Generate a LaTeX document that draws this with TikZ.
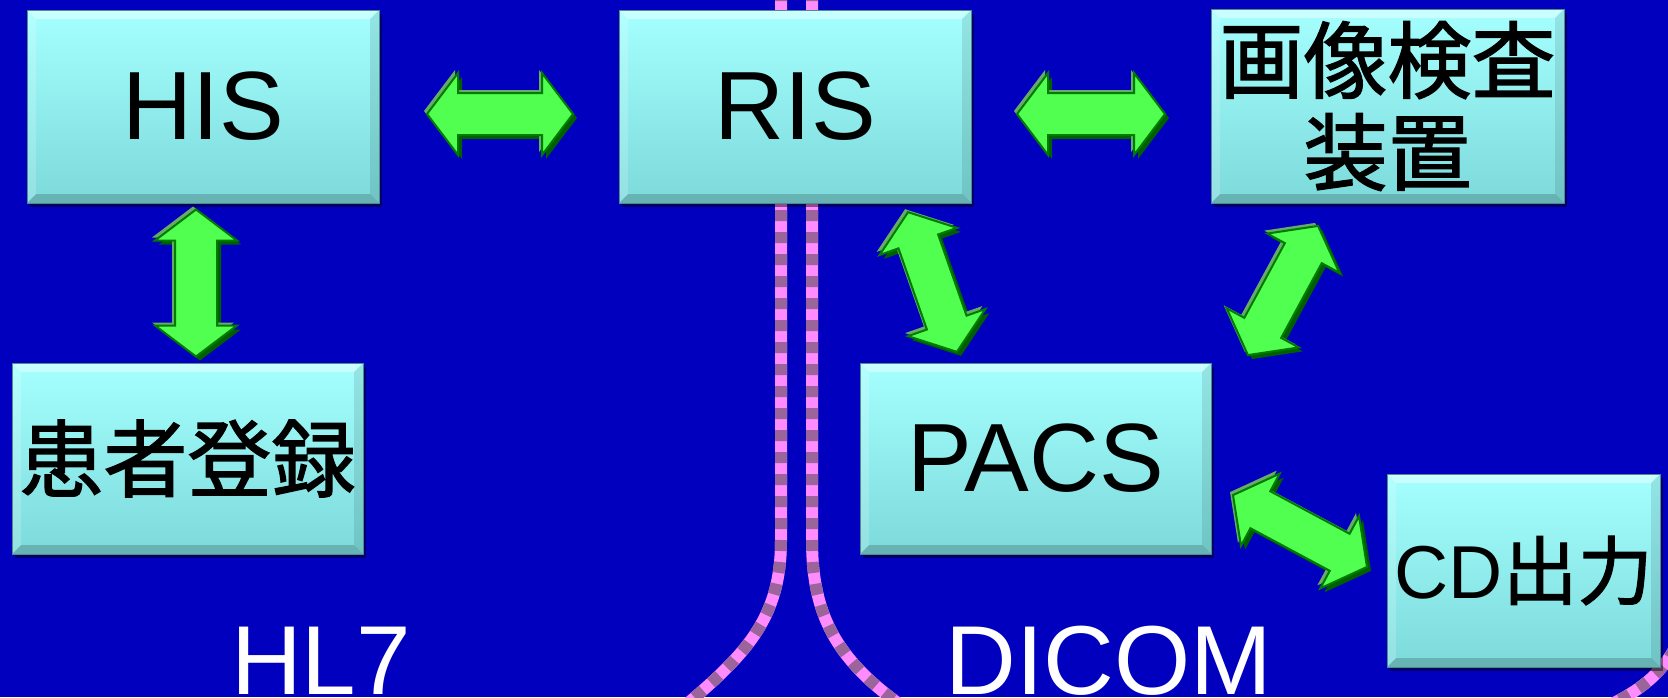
\documentclass[tikz,border=0pt]{standalone}
\usepackage{fontspec}
\setmainfont{Liberation Sans}
\newfontfamily\jp{Noto Sans CJK JP}[FakeBold=1.6]
\usetikzlibrary{shadows,calc}
\definecolor{bg}{RGB}{0,0,190}
\definecolor{boxtop}{RGB}{165,255,255}
\definecolor{boxbot}{RGB}{125,218,218}
\definecolor{boxedge}{RGB}{80,140,140}
\definecolor{arrfill}{RGB}{80,255,80}
\definecolor{arredge}{RGB}{0,125,0}
\definecolor{arrshadow}{RGB}{0,95,0}
\definecolor{arrlight}{RGB}{105,170,105}
\definecolor{pinkc}{RGB}{255,140,255}
\definecolor{mauve}{RGB}{155,100,155}
\def\arrshape{(-\arrL,0) -- (-\arrL+31,41) -- (-\arrL+31,21) -- (\arrL-31,21) -- (\arrL-31,41) -- (\arrL,0) -- (\arrL-31,-41) -- (\arrL-31,-21) -- (-\arrL+31,-21) -- (-\arrL+31,-41) -- cycle}
\newcommand\DblArr[3]{%
  \def\arrL{#3}%
  \begin{scope}[shift={(#1)}]
    \fill[arrshadow, shift={(4,4)}, rotate=#2] \arrshape;
    \fill[arrlight, shift={(-3,-3)}, rotate=#2] \arrshape;
    \draw[arrmain, rotate=#2] \arrshape;
  \end{scope}}
\tikzset{
  arrmain/.style={fill=arrfill, draw=arredge, line width=2pt, line join=miter},
  dotline/.style={line width=12pt, draw=pinkc, postaction={draw=mauve, line width=12pt, dash pattern=on 11pt off 11pt}},
  box/.style={rectangle, inner sep=0pt, top color=boxtop, bottom color=boxbot,
    draw=boxedge, line width=1pt,
    drop shadow={shadow xshift=3pt, shadow yshift=-4pt, opacity=0.45, fill=black},
    path picture={
      \path (path picture bounding box.north west) coordinate (bNW)
            (path picture bounding box.north east) coordinate (bNE)
            (path picture bounding box.south west) coordinate (bSW)
            (path picture bounding box.south east) coordinate (bSE);
      \fill[white,opacity=.40] (bNW) -- (bNE) -- ([shift={(-9pt,-9pt)}]bNE) -- ([shift={(9pt,-9pt)}]bNW) -- cycle;
      \fill[black,opacity=.18] (bSW) -- (bSE) -- ([shift={(-9pt,9pt)}]bSE) -- ([shift={(9pt,9pt)}]bSW) -- cycle;
      \fill[white,opacity=.18] (bNW) -- ([shift={(9pt,-9pt)}]bNW) -- ([shift={(9pt,9pt)}]bSW) -- (bSW) -- cycle;
      \fill[black,opacity=.10] (bNE) -- ([shift={(-9pt,-9pt)}]bNE) -- ([shift={(-9pt,9pt)}]bSE) -- (bSE) -- cycle;
    },
    text=black, font=\fontsize{97}{110}\selectfont},
  jpbox/.style={box, font=\jp\fontsize{84}{92}\selectfont, align=center},
  lbl/.style={text=white, font=\fontsize{98}{110}\selectfont, anchor=base, inner sep=0pt}
}
\begin{document}
\begin{tikzpicture}[x=1pt,y=-1pt]
\useasboundingbox (0,0) rectangle (1668,697);
\clip (0,0) rectangle (1668,697);
\fill[bg] (0,0) rectangle (1668,697);
% network lines
\draw[dotline] (781,-10) -- (781,540) .. controls (781,620) and (745,655) .. (680,710);
\draw[dotline] (812,-10) -- (812,540) .. controls (812,620) and (840,665) .. (915,715);
\draw[dotline] (1675,648) .. controls (1660,675) and (1640,690) .. (1610,705);
% boxes
\node[box, minimum width=352pt, minimum height=193pt] (his) at (203,106.5) {HIS};
\node[box, minimum width=352pt, minimum height=193pt] (ris) at (795,106.5) {RIS};
\node[jpbox, minimum width=353pt, minimum height=194pt] (img) at (1387.5,106) {画像検査\\装置};
\node[jpbox, minimum width=351pt, minimum height=191pt] (kanja) at (187.5,458.5) {患者登録};
\node[box, minimum width=351pt, minimum height=191pt] (pacs) at (1035.5,458.5) {PACS};
\node[box, minimum width=273pt, minimum height=193pt, font=\fontsize{75}{80}\selectfont] (cd) at (1523.5,570.5) {CD{\jp 出力}};
% labels
\node[lbl] (hl7) at (321,694) {HL7};
\node[lbl] (dicom) at (1109,694) {DICOM};
% arrows
\DblArr{500,114}{0}{73}
\DblArr{1091,114}{0}{74}
\DblArr{196,283}{90}{73.5}
\DblArr{932.5,282}{-70.7}{74}
\DblArr{1283,290.5}{61.5}{73.5}
\DblArr{1300,531}{-28.2}{76}
\end{tikzpicture}
\end{document}
